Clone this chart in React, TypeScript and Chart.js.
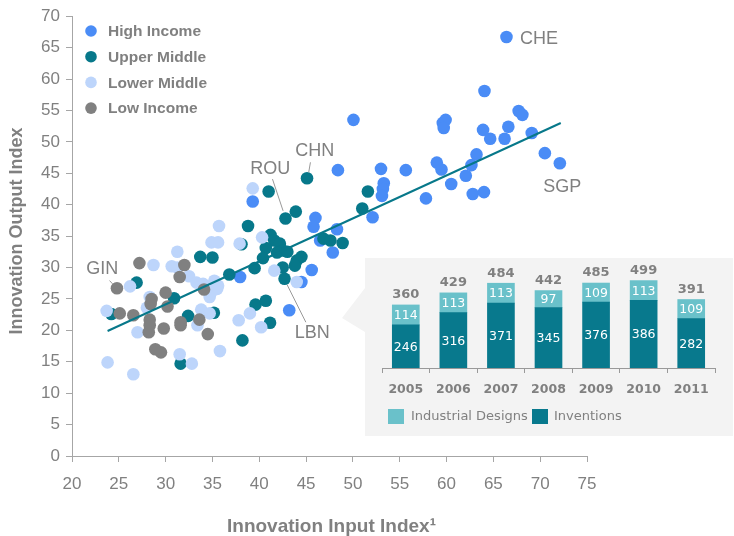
import React, { useEffect, useRef } from "react";
import { Chart, registerables } from "chart.js";

Chart.register(...registerables);

// ---------- Main scatter data (Innovation Input Index, Innovation Output Index) ----------
const highIncome: [number, number][] = [
  [66.4, 66.7], [64.05, 58.1], [50.06, 53.5], [59.6, 53.0], [59.9, 53.5], [59.7, 52.2],
  [67.7, 54.9], [68.1, 54.3], [63.9, 51.9], [66.6, 52.4], [64.66, 50.5], [66.2, 50.5],
  [69.1, 51.4], [70.5, 48.2], [72.1, 46.6], [63.2, 48.0], [62.66, 46.3], [62.06, 44.6],
  [58.96, 46.7], [59.46, 45.6], [60.5, 43.3], [62.8, 41.7], [64.0, 42.0], [57.8, 41.0],
  [55.65, 45.5], [53.0, 45.7], [53.3, 43.4], [53.2, 42.5], [53.1, 41.4], [48.4, 45.5],
  [52.1, 38.0], [48.3, 36.1], [47.85, 32.4], [39.3, 40.5], [46.0, 37.9], [45.8, 36.5],
  [46.5, 34.3], [45.6, 29.6], [44.5, 27.7], [37.95, 28.5], [43.2, 23.2],
];

const upperMiddle: [number, number][] = [
  [45.1, 44.2], [41.0, 42.1], [43.9, 38.9], [42.8, 37.8], [38.8, 36.6], [51.6, 42.1],
  [51.0, 39.4], [38.1, 33.7], [41.2, 35.2], [41.6, 34.3], [42.2, 33.8], [42.5, 32.7],
  [41.9, 32.4], [43.0, 32.5], [40.7, 33.1], [40.4, 31.5], [44.5, 31.7], [44.0, 31.1],
  [43.8, 30.3], [46.85, 34.6], [47.6, 34.3], [48.9, 33.9], [33.7, 31.7], [35.0, 31.6],
  [36.8, 28.9], [39.5, 29.9], [42.5, 30.0], [42.7, 28.2], [39.6, 24.1], [40.7, 24.7],
  [41.15, 21.2], [38.2, 18.4], [35.15, 22.8], [26.9, 27.6], [30.9, 25.1], [32.4, 22.3],
  [24.2, 22.6], [31.6, 14.7],
];

const lowerMiddle: [number, number][] = [
  [39.3, 42.6], [35.7, 36.6], [34.9, 34.0], [35.6, 34.0], [37.9, 33.8], [40.3, 34.8],
  [41.6, 29.5], [44.0, 27.7], [39.0, 22.7], [37.8, 21.6], [40.2, 20.5], [31.25, 32.5],
  [28.7, 30.4], [30.65, 30.2], [31.25, 30.0], [32.5, 28.6], [33.3, 27.6], [34.0, 27.4],
  [35.2, 27.9], [35.6, 27.1], [34.9, 26.1], [35.5, 26.6], [34.7, 25.3], [26.2, 27.0],
  [28.3, 25.3], [28.0, 23.6], [23.7, 23.1], [33.8, 23.3], [34.7, 22.7], [33.4, 20.8],
  [27.0, 19.7], [31.5, 16.2], [32.8, 14.7], [35.8, 16.7], [23.8, 14.9], [26.55, 13.0],
];

const lowIncome: [number, number][] = [
  [24.8, 26.7], [27.2, 30.7], [32.0, 30.4], [31.5, 28.5], [34.1, 26.5], [30.0, 26.0],
  [28.5, 25.0], [28.4, 24.2], [30.2, 23.8], [25.1, 22.7], [26.55, 22.4], [28.3, 21.7],
  [28.3, 20.8], [28.2, 19.7], [29.8, 20.3], [31.6, 21.3], [31.6, 20.8], [33.6, 21.7],
  [34.5, 19.4], [28.9, 17.0], [29.5, 16.5],
];

const trendX = [23.8, 72.2];
const trendY = [19.9, 53.0];

const groupNames = ["High Income", "Upper Middle", "Lower Middle", "Low Income"];

const labeledCountries = [
  { code: "CHE", x: 66.4, y: 66.7 },
  { code: "SGP", x: 72.1, y: 46.6 },
  { code: "CHN", x: 45.1, y: 44.2 },
  { code: "ROU", x: 42.8, y: 37.8 },
  { code: "GIN", x: 24.8, y: 26.7 },
  { code: "LBN", x: 42.7, y: 28.2 },
];

const xTitle = "Innovation Input Index\u00B9";
const yTitle = "Innovation Output Index";

// ---------- Inset data ----------
const years = ["2005", "2006", "2007", "2008", "2009", "2010", "2011"];
const inventions = [246, 316, 371, 345, 376, 386, 282];
const industrialDesigns = [114, 113, 113, 97, 109, 113, 109];
const insetLegend = ["Industrial Designs", "Inventions"];

// ---------- Styles ----------
const GRAY = "#808080";
const AXIS = "#a6a6a6";
const C_HIGH = "#4a8cf6";
const C_UPPER = "#07788a";
const C_LOWER = "#bdd5fb";
const C_LOW = "#808080";
const C_INV = "#08798d";
const C_DES = "#6ac1ca";
const MAIN_FONT = "'Liberation Sans', Arial, sans-serif";
const INSET_FONT = "'DejaVu Sans', Verdana, sans-serif";

const labelStyle: Record<string, { dx: number; dy: number; align: CanvasTextAlign; leader?: number[] }> = {
  CHE: { dx: 13.5, dy: 2, align: "left" },
  SGP: { dx: 2.5, dy: 23.5, align: "center" },
  CHN: { dx: 7.7, dy: -27.7, align: "center", leader: [3.4, -16, 1.7, -6] },
  ROU: { dx: -15.2, dy: -49.2, align: "center", leader: [-13, -39.4, -2.4, -7.7] },
  GIN: { dx: -14.7, dy: -19.7, align: "center", leader: [-7.4, -7.7, -4.4, -4.4] },
  LBN: { dx: 27.8, dy: 54.7, align: "center", leader: [21.3, 43.4, 2.6, 6] },
};

const toPts = (arr: [number, number][]) => arr.map(([x, y]) => ({ x, y }));

export default function App() {
  const mainRef = useRef<HTMLCanvasElement | null>(null);
  const insetRef = useRef<HTMLCanvasElement | null>(null);

  useEffect(() => {
    if (!mainRef.current || !insetRef.current) return;

    const mainDecor = {
      id: "mainDecor",
      afterDraw(chart: any) {
        const { ctx, scales, chartArea } = chart;
        const xs = scales.x;
        const ys = scales.y;
        ctx.save();
        // axis titles
        ctx.fillStyle = GRAY;
        ctx.font = `bold 19px ${MAIN_FONT}`;
        ctx.textAlign = "center";
        ctx.textBaseline = "middle";
        ctx.fillText(xTitle, (chartArea.left + chartArea.right) / 2 + 2, 527);
        ctx.font = `bold 18px ${MAIN_FONT}`;
        ctx.save();
        ctx.translate(17, 231);
        ctx.rotate(-Math.PI / 2);
        ctx.fillText(yTitle, 0, 0);
        ctx.restore();

        // legend
        const colors = [C_HIGH, C_UPPER, C_LOWER, C_LOW];
        ctx.font = `bold 15.5px ${MAIN_FONT}`;
        ctx.textAlign = "left";
        groupNames.forEach((name, i) => {
          const cy = 31 + i * 25.7;
          ctx.beginPath();
          ctx.fillStyle = colors[i];
          ctx.arc(91, cy, 5.8, 0, Math.PI * 2);
          ctx.fill();
          ctx.fillStyle = GRAY;
          ctx.fillText(name, 108, cy + 1);
        });

        // country labels
        ctx.font = `18px ${MAIN_FONT}`;
        labeledCountries.forEach((c) => {
          const st = labelStyle[c.code];
          const px = xs.getPixelForValue(c.x);
          const py = ys.getPixelForValue(c.y);
          if (st.leader) {
            ctx.beginPath();
            ctx.strokeStyle = "#999999";
            ctx.lineWidth = 1;
            ctx.moveTo(px + st.leader[0], py + st.leader[1]);
            ctx.lineTo(px + st.leader[2], py + st.leader[3]);
            ctx.stroke();
          }
          ctx.fillStyle = GRAY;
          ctx.textAlign = st.align;
          ctx.textBaseline = "middle";
          ctx.fillText(c.code, px + st.dx, py + st.dy);
        });
        ctx.restore();
      },
    };

    const mainChart = new Chart(mainRef.current, {
      type: "scatter",
      data: {
        datasets: [
          {
            label: "Trend",
            data: trendX.map((x, i) => ({ x, y: trendY[i] })),
            showLine: true,
            borderColor: C_UPPER,
            borderWidth: 2,
            pointRadius: 0,
            order: 0,
          } as any,
          { label: groupNames[3], data: toPts(lowIncome), backgroundColor: C_LOW, pointRadius: 6.3, borderWidth: 0, order: 1 },
          { label: groupNames[2], data: toPts(lowerMiddle), backgroundColor: C_LOWER, pointRadius: 6.3, borderWidth: 0, order: 2 },
          { label: groupNames[1], data: toPts(upperMiddle), backgroundColor: C_UPPER, pointRadius: 6.3, borderWidth: 0, order: 3 },
          { label: groupNames[0], data: toPts(highIncome), backgroundColor: C_HIGH, pointRadius: 6.3, borderWidth: 0, order: 4 },
        ],
      },
      options: {
        animation: false,
        responsive: false,
        maintainAspectRatio: false,
        events: [],
        layout: { padding: { top: 15, right: 147, bottom: 0, left: 0 } },
        plugins: { legend: { display: false }, tooltip: { enabled: false } },
        scales: {
          x: {
            type: "linear",
            min: 20,
            max: 75,
            afterFit: (s: any) => { s.height = 80; },
            ticks: { stepSize: 5, color: GRAY, font: { family: MAIN_FONT, size: 17 }, padding: 12 },
            grid: { drawOnChartArea: false, drawTicks: true, tickLength: 6, color: AXIS },
            border: { color: AXIS, width: 1 },
          },
          y: {
            type: "linear",
            min: 0,
            max: 70,
            afterFit: (s: any) => { s.width = 72; },
            ticks: { stepSize: 5, color: GRAY, font: { family: MAIN_FONT, size: 17 }, padding: 6 },
            grid: { drawOnChartArea: false, drawTicks: true, tickLength: 6, color: AXIS },
            border: { color: AXIS, width: 1 },
          },
        },
      },
      plugins: [mainDecor],
    });

    const totals = inventions.map((v, i) => v + industrialDesigns[i]);

    const insetDecor = {
      id: "insetDecor",
      afterDatasetsDraw(chart: any) {
        const { ctx } = chart;
        const invMeta = chart.getDatasetMeta(0);
        const desMeta = chart.getDatasetMeta(1);
        ctx.save();
        ctx.textAlign = "center";
        ctx.textBaseline = "middle";
        ctx.fillStyle = "#ffffff";
        ctx.font = `12.5px ${INSET_FONT}`;
        invMeta.data.forEach((bar: any, i: number) => {
          ctx.fillText(String(inventions[i]), bar.x, (bar.y + bar.base) / 2 + 1);
        });
        desMeta.data.forEach((bar: any, i: number) => {
          ctx.fillText(String(industrialDesigns[i]), bar.x, (bar.y + bar.base) / 2 + 1);
        });
        ctx.fillStyle = GRAY;
        ctx.font = `bold 13px ${INSET_FONT}`;
        desMeta.data.forEach((bar: any, i: number) => {
          ctx.fillText(String(totals[i]), bar.x, bar.y - 10);
        });
        // legend
        ctx.textAlign = "left";
        ctx.font = `13px ${INSET_FONT}`;
        ctx.fillStyle = C_DES;
        ctx.fillRect(23, 151, 16, 15);
        ctx.fillStyle = GRAY;
        ctx.fillText(insetLegend[0], 46, 159);
        ctx.fillStyle = C_INV;
        ctx.fillRect(167, 151, 16, 15);
        ctx.fillStyle = GRAY;
        ctx.fillText(insetLegend[1], 189, 159);
        ctx.restore();
      },
    };

    const insetChart = new Chart(insetRef.current, {
      type: "bar",
      data: {
        labels: years,
        datasets: [
          { label: insetLegend[1], data: inventions, backgroundColor: C_INV, barThickness: 27 },
          { label: insetLegend[0], data: industrialDesigns, backgroundColor: C_DES, barThickness: 27 },
        ],
      },
      options: {
        animation: false,
        responsive: false,
        maintainAspectRatio: false,
        events: [],
        layout: { padding: { top: 0, right: 18, bottom: 0, left: 17 } },
        plugins: { legend: { display: false }, tooltip: { enabled: false } },
        scales: {
          x: {
            stacked: true,
            afterFit: (s: any) => { s.height = 68; },
            ticks: { color: GRAY, font: { family: INSET_FONT, size: 12.5, weight: "bold" }, padding: 9 },
            grid: { offset: true, drawOnChartArea: false, drawTicks: true, tickLength: 5, color: "#999999" },
            border: { color: "#999999", width: 1 },
          },
          y: {
            stacked: true,
            display: false,
            min: 0,
            max: 628,
          },
        },
      },
      plugins: [insetDecor],
    });

    return () => {
      mainChart.destroy();
      insetChart.destroy();
    };
  }, []);

  return (
    <div style={{ position: "fixed", left: 0, top: 0, width: 734, height: 536, background: "#ffffff", overflow: "hidden" }}>
      <canvas ref={mainRef} width={734} height={536} style={{ position: "absolute", left: 0, top: 0, width: 734, height: 536 }} />
      <div
        style={{
          position: "absolute",
          left: 342,
          top: 258,
          width: 391,
          height: 178,
          background: "#f3f3f3",
          clipPath: "polygon(23px 0, 100% 0, 100% 100%, 23px 100%, 23px 74px, 0 60px, 23px 30px)",
        }}
      />
      <canvas ref={insetRef} width={368} height={178} style={{ position: "absolute", left: 365, top: 258, width: 368, height: 178 }} />
    </div>
  );
}
